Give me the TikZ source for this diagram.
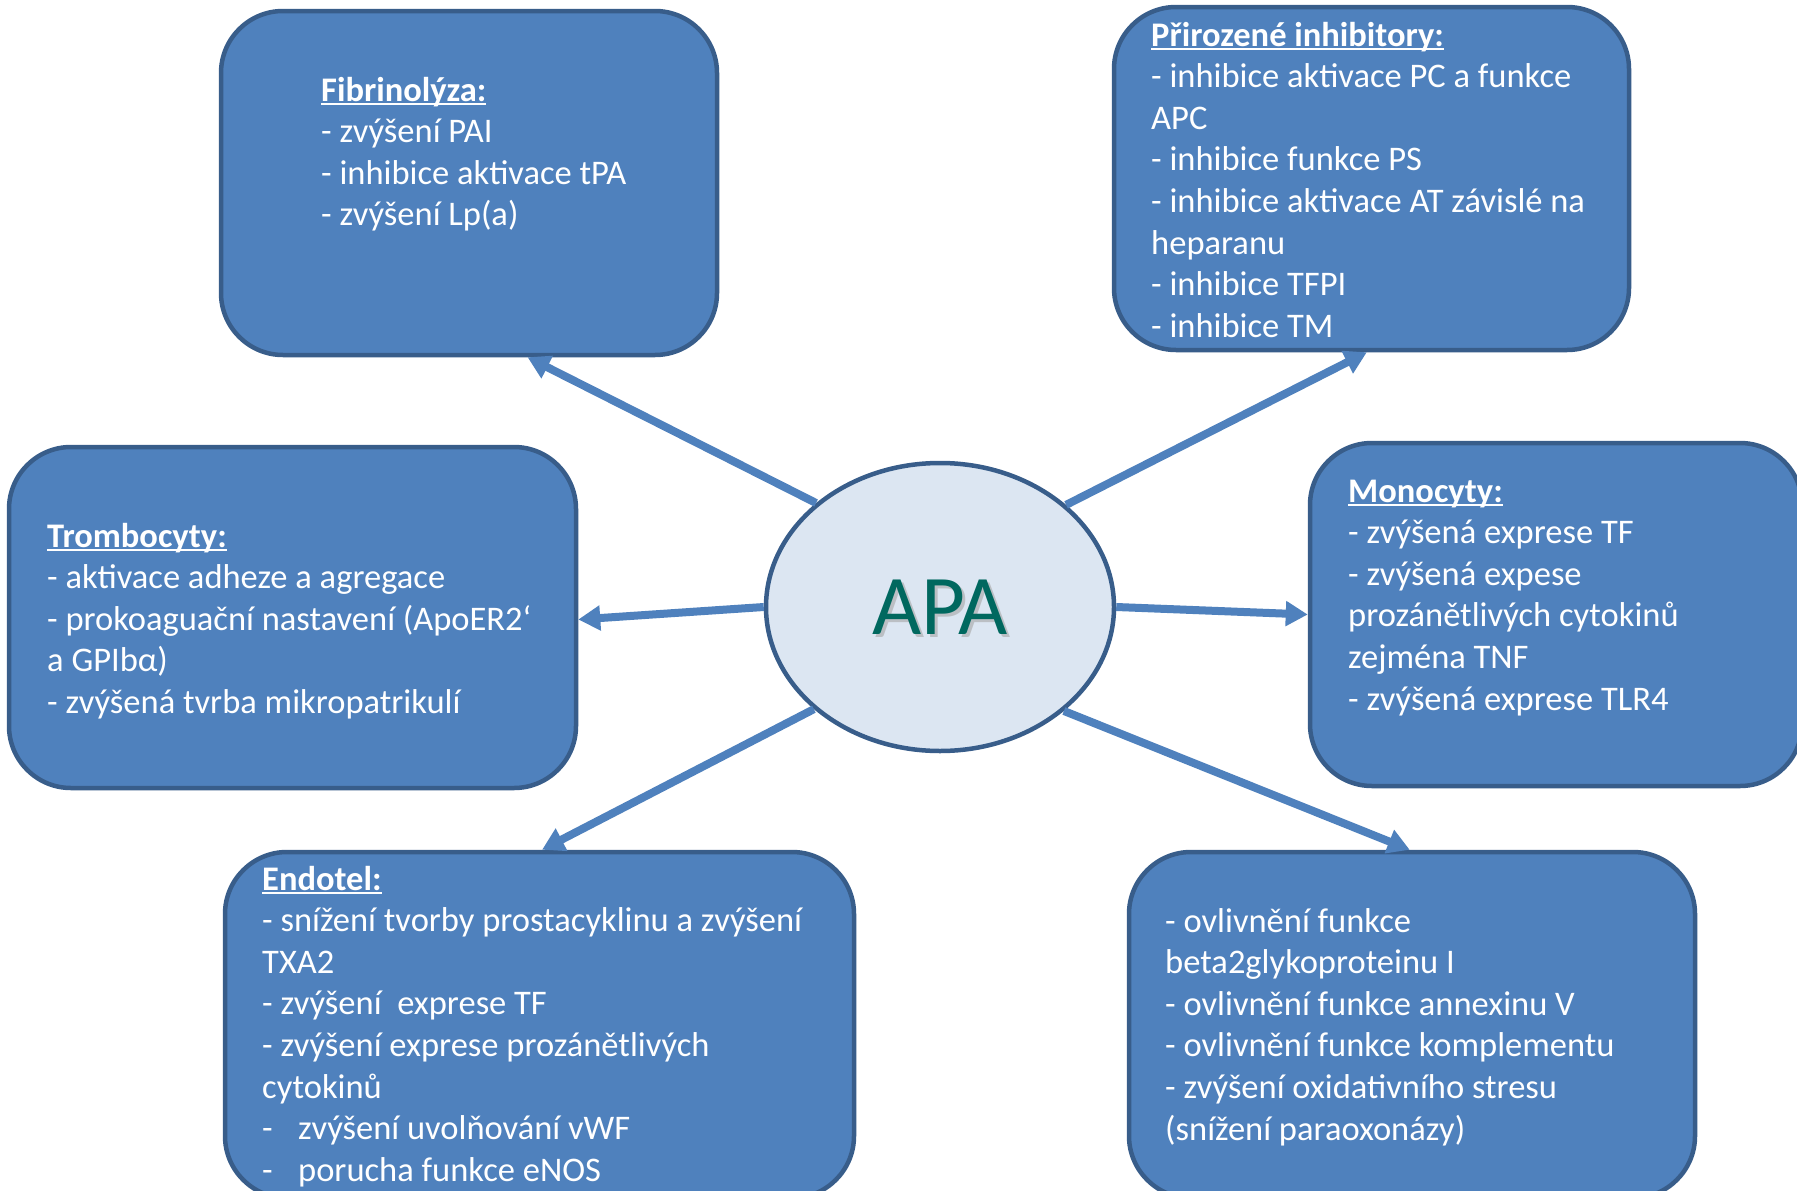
\documentclass[tikz,border=0pt]{standalone}
\usepackage{fontspec}
\setmainfont{Carlito}
\usetikzlibrary{arrows.meta,calc,shapes.geometric}
\definecolor{boxfill}{HTML}{4F81BD}
\definecolor{boxline}{HTML}{385D8A}
\definecolor{ellfill}{HTML}{DCE6F2}
\definecolor{apatext}{HTML}{00685F}
\tikzset{
  panel/.style={draw=boxline, fill=boxfill, line width=4.5pt, rounded corners=62pt, inner sep=0pt},
  txt/.style={text=white, align=left, inner sep=0pt, anchor=base west, font=\fontsize{34.5}{41.6}\selectfont},
  link/.style={draw=boxfill, line width=8pt, -{Triangle[length=22pt,width=24pt]}}
}
\newsavebox{\hdbox}
\newcommand{\hd}[1]{\sbox{\hdbox}{\bfseries #1}\rlap{\rule[-4pt]{\wd\hdbox}{2.2pt}}\usebox{\hdbox}}
\begin{document}
\begin{tikzpicture}[x=1pt,y=-1pt]
\useasboundingbox (0,0) rectangle (1797,1191);
\clip (0,0) rectangle (1797,1191);
\fill[white] (0,0) rectangle (1797,1191);

% panels
\node[panel, minimum width=496pt, minimum height=344pt] (fib) at (469,183) {};
\node[panel, minimum width=515pt, minimum height=343pt] (inh) at (1371.5,178.5) {};
\node[panel, minimum width=567pt, minimum height=341pt] (tro) at (292.5,617.5) {};
\node[panel, minimum width=492pt, minimum height=343pt] (mon) at (1556,614.5) {};
\node[panel, minimum width=629pt, minimum height=346pt] (end) at (539.5,1025) {};
\node[panel, minimum width=566pt, minimum height=346pt] (oth) at (1412,1025) {};

% texts (anchored at the baseline of their last line)
\node[txt] (fibt) at (321,225.8) {\hd{Fibrinolýza:}\\- zvýšení PAI\\- inhibice aktivace tPA\\- zvýšení Lp(a)};
\node[txt] (inht) at (1151,337.2) {\hd{Přirozené inhibitory:}\\- inhibice aktivace PC a funkce\\APC\\- inhibice funkce PS\\- inhibice aktivace AT závislé na\\heparanu\\- inhibice TFPI\\- inhibice TM};
\node[txt] (trot) at (47,713.4) {\hd{Trombocyty:}\\- aktivace adheze a agregace\\- prokoaguační nastavení (ApoER2‘\\a GPIbα)\\- zvýšená tvrba mikropatrikulí};
\node[txt] (mont) at (1348,710) {\hd{Monocyty:}\\- zvýšená exprese TF\\- zvýšená expese\\prozánětlivých cytokinů\\zejména TNF\\- zvýšená exprese TLR4};
\node[txt] (endt) at (262,1181.2) {\hd{Endotel:}\\- snížení tvorby prostacyklinu a zvýšení\\TXA2\\- zvýšení\ \ exprese TF\\- zvýšení exprese prozánětlivých\\cytokinů\\\makebox[36pt][l]{-}zvýšení uvolňování vWF\\\makebox[36pt][l]{-}porucha funkce eNOS};
\node[txt] (otht) at (1165,1140) {- ovlivnění funkce\\beta2glykoproteinu I\\- ovlivnění funkce annexinu V\\- ovlivnění funkce komplementu\\- zvýšení oxidativního stresu\\(snížení paraoxonázy)};

% central ellipse
\node[ellipse, draw=boxline, fill=ellfill, line width=4.5pt, minimum width=348pt, minimum height=288pt, inner sep=0pt] (apa) at (940,607) {};
\node[text=black!35, opacity=0.6, font=\fontsize{85}{90}\selectfont] (apash) at (943,610) {APA};
\node[text=apatext, font=\fontsize{85}{90}\selectfont] (apat) at (940,607) {APA};

% connectors
\draw[link] (apa.140.7) -- ($(fib.south west)!0.617!(fib.south east)$);
\draw[link] (apa.39.3) -- ($(inh.south west)!0.491!(inh.south east)$);
\draw[link] (apa.180) -- ($(tro.east)+(0,2)$);
\draw[link] (apa.0) -- ($(mon.west)+(0,0)$);
\draw[link] (apa.219.5) -- ($(end.north west)!0.504!(end.north east)$);
\draw[link] (apa.320.5) -- ($(oth.north west)!0.496!(oth.north east)$);
\end{tikzpicture}
\end{document}
